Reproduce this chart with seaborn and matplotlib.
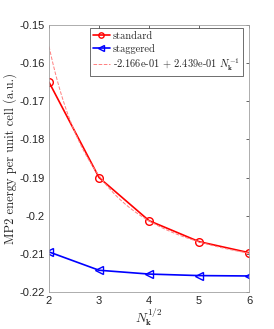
import numpy as np
import pandas as pd
import matplotlib
matplotlib.use("Agg")
import matplotlib.pyplot as plt
import seaborn as sns

# sqrt(N_k) values
nk_sqrt = [2, 3, 4, 5, 6]
e_standard = [-0.1650, -0.1900, -0.2013, -0.2068, -0.2097]
e_staggered = [-0.2095, -0.2143, -0.2153, -0.2157, -0.2158]

# fit from legend: E = a + b / N_k
fit_a = -0.2166
fit_b = 0.2439
fit_label = r"-2.166e-01 + 2.439e-01 $N_{\mathbf{k}}^{-1}$"

sns.set_style("white")
plt.rcParams['font.family'] = ['Liberation Sans', 'DejaVu Sans']
plt.rcParams['mathtext.fontset'] = 'cm'
plt.rcParams['axes.unicode_minus'] = False

df = pd.DataFrame({
    'x': nk_sqrt * 2,
    'E': e_standard + e_staggered,
    'method': ['standard'] * 5 + ['staggered'] * 5,
})

fig = plt.figure(figsize=(2.74, 3.29), dpi=100)
ax = fig.add_axes([0.179, 0.1125, 0.730, 0.8115])

sns.lineplot(data=df[df.method == 'standard'], x='x', y='E', ax=ax, color='#ff0000',
             marker='o', markersize=5.5, markerfacecolor='none', markeredgecolor='#ff0000',
             markeredgewidth=1.0, linewidth=1.2, label='standard')
sns.lineplot(data=df[df.method == 'staggered'], x='x', y='E', ax=ax, color='#0000ff',
             marker='<', markersize=5.5, markerfacecolor='none', markeredgecolor='#0000ff',
             markeredgewidth=1.0, linewidth=1.2, label='staggered')

xs = np.linspace(nk_sqrt[0], nk_sqrt[-1], 100)
sns.lineplot(x=xs, y=fit_a + fit_b / xs**2, ax=ax, color='#ff7f7f', linestyle='--',
             linewidth=0.7, label=fit_label)

ax.set_xlim(2, 6)
ax.set_ylim(-0.22, -0.15)
ax.set_xticks([2, 3, 4, 5, 6])
ax.set_yticks([-0.22, -0.21, -0.2, -0.19, -0.18, -0.17, -0.16, -0.15])
ax.set_yticklabels(['-0.22', '-0.21', '-0.2', '-0.19', '-0.18', '-0.17', '-0.16', '-0.15'])
ax.tick_params(direction='in', length=2.5, width=0.5, top=True, right=True,
               labelsize=8, colors='#262626', pad=3)
for s in ax.spines.values():
    s.set_visible(True)
    s.set_color('#a0a0a0')
    s.set_linewidth(0.6)

ax.set_xlabel(r"$N_{\mathbf{k}}^{1/2}$", fontsize=9.5, labelpad=0)
ax.set_ylabel("MP2 energy per unit cell (a.u.)", fontsize=9, family='cmr10', labelpad=2)

leg = ax.legend(loc='upper right', bbox_to_anchor=(0.98, 0.995),
                prop={'family': 'cmr10', 'size': 7.5}, frameon=True, fancybox=False,
                edgecolor='black', borderpad=0.3, handlelength=1.6, labelspacing=0.25,
                handletextpad=0.3, borderaxespad=0.2, markerscale=0.7)
leg.get_frame().set_linewidth(0.5)

fig.savefig("out.png", dpi=100)
